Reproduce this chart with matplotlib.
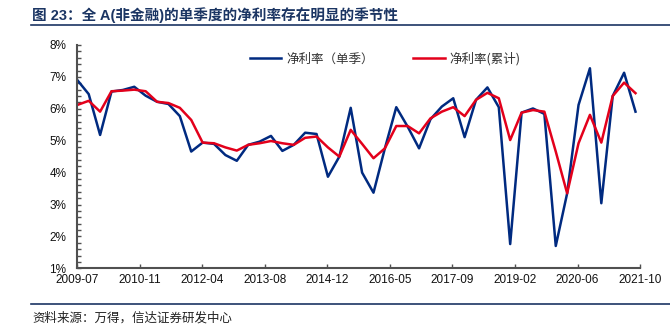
import matplotlib
matplotlib.use("Agg")
import matplotlib.pyplot as plt
from matplotlib.lines import Line2D
from matplotlib.ticker import MultipleLocator, PercentFormatter
import numpy as np

plt.rcParams['font.family'] = ['Liberation Sans', 'Noto Sans CJK SC', 'DejaVu Sans']

# 全A(非金融)净利率，季度数据，2009Q2 - 2021Q3（%）
single_q = [6.90, 6.46, 5.18, 6.54, 6.59, 6.69, 6.41, 6.22, 6.15, 5.77,
            4.66, 4.94, 4.90, 4.55, 4.37, 4.87, 4.97, 5.15, 4.68, 4.87,
            5.25, 5.21, 3.87, 4.50, 6.03, 4.00, 3.37, 4.76, 6.05, 5.44,
            4.76, 5.67, 6.07, 6.33, 5.11, 6.28, 6.67, 6.05, 1.76, 5.88,
            6.01, 5.84, 1.70, 3.35, 6.12, 7.27, 3.04, 6.40, 7.13, 5.91]
cumulative = [6.12, 6.25, 5.91, 6.55, 6.57, 6.60, 6.55, 6.22, 6.18, 6.03,
              5.65, 4.94, 4.92, 4.79, 4.69, 4.87, 4.92, 4.99, 4.92, 4.87,
              5.09, 5.13, 4.79, 4.50, 5.34, 4.90, 4.45, 4.76, 5.46, 5.46,
              5.23, 5.70, 5.91, 6.05, 5.77, 6.28, 6.50, 6.33, 5.02, 5.88,
              5.96, 5.91, 4.66, 3.35, 4.92, 5.81, 4.94, 6.40, 6.82, 6.49]
date_labels = ['2009-07', '2010-11', '2012-04', '2013-08', '2014-12',
               '2016-05', '2017-09', '2019-02', '2020-06', '2021-10']

NAVY = '#1b3563'
BLUE = '#002a80'
RED = '#e3001b'
AXIS_GRAY = '#505050'

fig = plt.figure(figsize=(6.7, 3.31), dpi=100)
ax = fig.add_axes([0.1154, 0.1894, 0.8399, 0.6747])

x = np.arange(len(single_q))
ax.plot(x, single_q, color=BLUE, lw=1.8, label='净利率（单季）')
ax.plot(x, cumulative, color=RED, lw=1.8, label='净利率(累计)')

x_end = 49.4
ax.set_xlim(0, x_end)
ax.set_ylim(1, 8)
ax.set_xticks(np.linspace(0, x_end, len(date_labels)))
ax.set_xticklabels(date_labels)
ax.yaxis.set_major_locator(MultipleLocator(1))
ax.yaxis.set_minor_locator(MultipleLocator(0.2))
ax.yaxis.set_major_formatter(PercentFormatter(decimals=0))

for side in ['top', 'right']:
    ax.spines[side].set_visible(False)
for side in ['left', 'bottom']:
    ax.spines[side].set_color(AXIS_GRAY)
    ax.spines[side].set_linewidth(1.5)
ax.tick_params(axis='both', which='both', direction='in', length=3,
               width=1, color=AXIS_GRAY, labelsize=8.5, labelcolor='#111111')
ax.tick_params(axis='x', pad=4)
ax.tick_params(axis='y', pad=8)

fig.legend(loc='center', bbox_to_anchor=(0.575, 0.822), ncol=2, frameon=False,
           handlelength=2.5, columnspacing=3.2, handletextpad=0.4,
           prop={'family': ['Noto Sans CJK SC'], 'size': 9},
           labelcolor='#333333')

# 标题与分隔线
fig.text(32 / 670, 1 - 15 / 331, '图 23：全 A(非金融)的单季度的净利率存在明显的季节性',
         fontsize=10.5, fontweight='bold', color=NAVY, va='center', ha='left')
fig.add_artist(Line2D([31 / 670, 1], [1 - 25 / 331] * 2, color=NAVY, lw=1.2))
fig.add_artist(Line2D([31 / 670, 1], [1 - 304 / 331] * 2, color=NAVY, lw=1.2))
fig.text(32 / 670, 1 - 318 / 331, '资料来源：万得，信达证券研发中心',
         fontsize=9, color='#222222', va='center', ha='left',
         family=['Noto Sans CJK SC'])

fig.savefig('out.png', dpi=100)
